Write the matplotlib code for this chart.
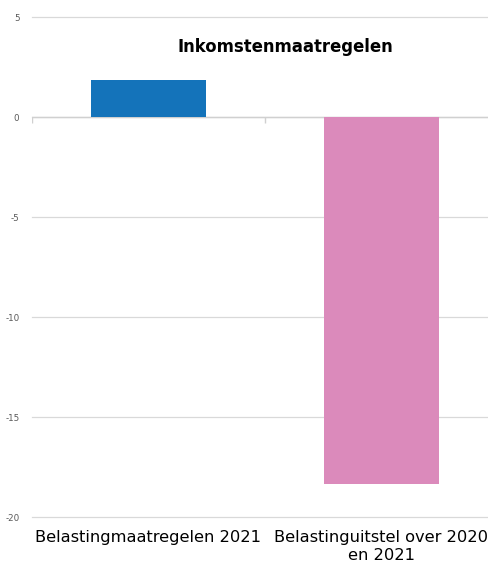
import matplotlib
matplotlib.use("Agg")
import matplotlib.pyplot as plt
import numpy as np

categories = ["Belastingmaatregelen 2021", "Belastinguitstel over 2020\nen 2021"]
values = [1.85, -18.35]
colors = ["#1473BA", "#DB8ABB"]
yticks = [5, 0, -5, -10, -15, -20]
title = "Inkomstenmaatregelen"

fig = plt.figure(figsize=(4.89, 5.63), dpi=100)
ax = fig.add_axes([0.0654, 0.0817, 0.953, 0.888])
x = np.arange(len(categories))
ax.bar(x, values, width=0.49, color=colors, zorder=3)
ax.set_xlim(-0.5, len(categories) - 0.5)
ax.set_ylim(-20, 5)
ax.set_yticks(yticks)
ax.set_yticklabels([str(t) for t in yticks], fontsize=6.3, color="#595959")
ax.tick_params(axis="y", length=0, pad=9)
ax.set_xticks(x)
ax.set_xticklabels(categories, fontsize=11.7, color="#000000", linespacing=1.3)
ax.tick_params(axis="x", length=0, pad=9)
ax.grid(axis="y", color="#d9d9d9", linewidth=0.9, zorder=0)
for gl in ax.yaxis.get_gridlines():
    gl.set_clip_on(False)
for s in ax.spines.values():
    s.set_visible(False)
ax.axhline(0, color="#d0d0d0", linewidth=1.0, zorder=2)
bounds = np.arange(len(categories)) - 0.5
ax.vlines(bounds, -0.3, 0, color="#d0d0d0", linewidth=1.0, zorder=2)
fig.text(285 / 489, 1 - 47 / 563, title, fontsize=11.9, fontweight="bold",
         ha="center", va="center")
fig.savefig("out.png", dpi=100)
